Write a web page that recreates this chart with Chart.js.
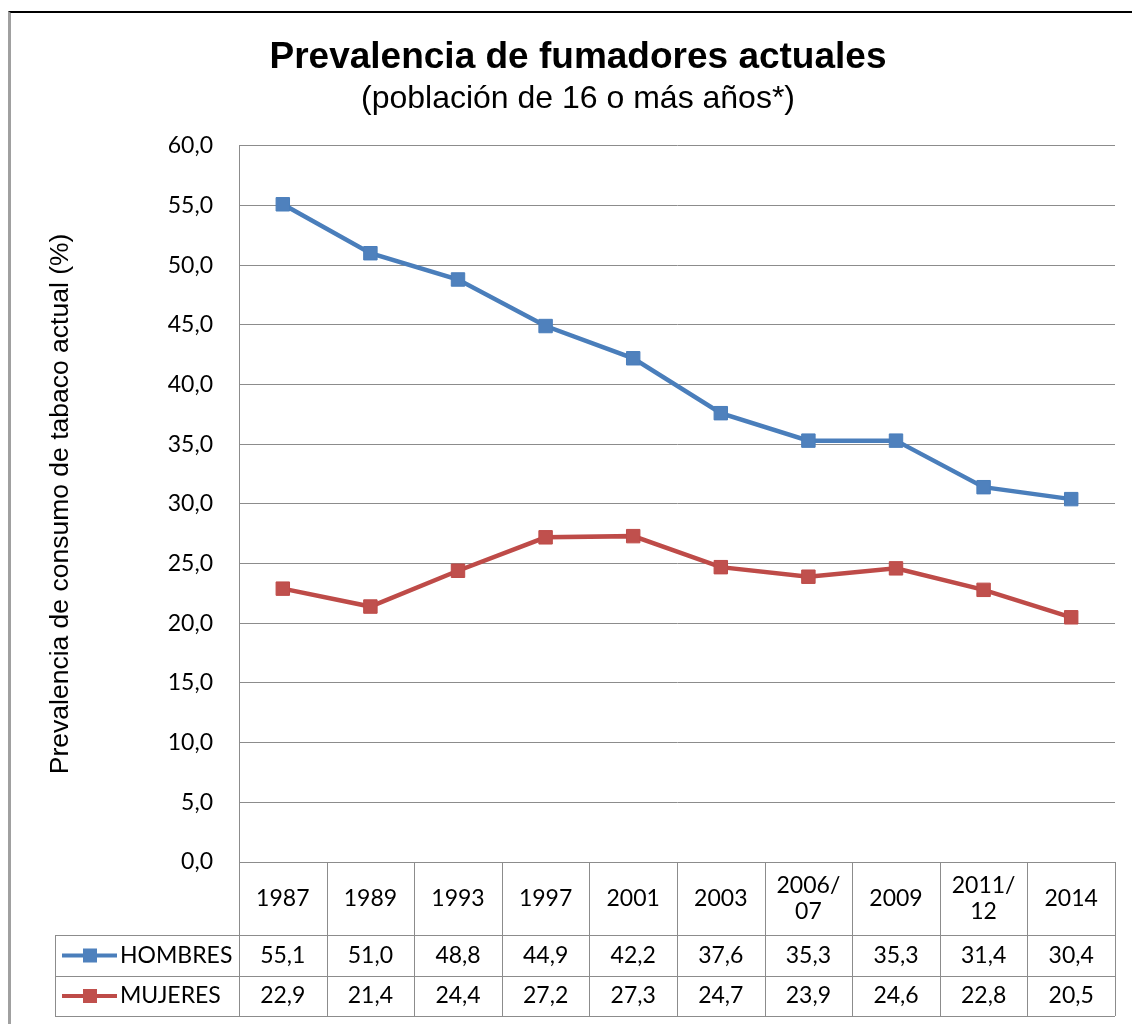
<!DOCTYPE html>
<html>
<head>
<meta charset="utf-8">
<script src="https://cdn.jsdelivr.net/npm/chart.js@4.4.1/dist/chart.umd.min.js"></script>
<style>
    body { margin: 0; background: #fff; }
    #wrap { position: relative; width: 1132px; height: 1024px; }
    #frame {
        position: absolute; left: 8px; top: 11px; right: 0; bottom: 0;
        border-top: 2px solid #000; border-left: 3px solid #a0a0a0;
    }
    #chart { position: absolute; left: 0; top: 0; }
</style>
</head>
<body>
<div id="wrap">
    <div id="frame"></div>
    <canvas id="chart" width="1132" height="1024"></canvas>
</div>
<script>
const years = ['1987', '1989', '1993', '1997', '2001', '2003', ['2006/', '07'], '2009', ['2011/', '12'], '2014'];
const hombres = [55.1, 51.0, 48.8, 44.9, 42.2, 37.6, 35.3, 35.3, 31.4, 30.4];
const mujeres = [22.9, 21.4, 24.4, 27.2, 27.3, 24.7, 23.9, 24.6, 22.8, 20.5];
const seriesNames = ['HOMBRES', 'MUJERES'];
const yMin = 0, yMax = 60, yStep = 5;

const cellFont = '23px Lato';
const gridColor = '#8c8c8c';

function fmt(v) {
    return v.toFixed(1).replace('.', ',');
}

// data table under the plot, aligned with the x scale
const dataTable = {
    id: 'dataTable',
    afterDraw(chart) {
        const ctx = chart.ctx;
        const x = chart.scales.x;
        const area = chart.chartArea;
        const half = (x.getPixelForValue(1) - x.getPixelForValue(0)) / 2;
        const top = area.bottom;
        const rowTops = [top, top + 73, top + 114, top + 154];
        const legendLeft = 55;

        ctx.save();
        ctx.strokeStyle = gridColor;
        ctx.lineWidth = 1;
        ctx.beginPath();
        // horizontal lines
        ctx.moveTo(area.left, rowTops[0] + 0.5);
        ctx.lineTo(area.right, rowTops[0] + 0.5);
        for (let r = 1; r < rowTops.length; r++) {
            ctx.moveTo(legendLeft, Math.round(rowTops[r]) + 0.5);
            ctx.lineTo(area.right, Math.round(rowTops[r]) + 0.5);
        }
        // vertical lines
        for (let i = 0; i <= years.length; i++) {
            const cx = Math.round(x.getPixelForValue(0) - half + i * half * 2) + 0.5;
            ctx.moveTo(cx, rowTops[0]);
            ctx.lineTo(cx, rowTops[3]);
        }
        ctx.moveTo(legendLeft + 0.5, rowTops[1]);
        ctx.lineTo(legendLeft + 0.5, rowTops[3]);
        ctx.stroke();

        ctx.fillStyle = '#000';
        ctx.font = cellFont;
        ctx.textAlign = 'center';
        ctx.textBaseline = 'middle';
        years.forEach((lab, i) => {
            const cx = x.getPixelForValue(i);
            const cy = (rowTops[0] + rowTops[1]) / 2;
            if (Array.isArray(lab)) {
                ctx.fillText(lab[0], cx, cy - 13);
                ctx.fillText(lab[1], cx, cy + 13);
            } else {
                ctx.fillText(lab, cx, cy);
            }
        });

        chart.data.datasets.forEach((ds, r) => {
            const cy = (rowTops[r + 1] + rowTops[r + 2]) / 2;
            ds.data.forEach((v, i) => {
                ctx.textAlign = 'center';
                ctx.fillText(fmt(v), x.getPixelForValue(i), cy);
            });
            // legend key
            ctx.strokeStyle = ds.borderColor;
            ctx.lineWidth = 4;
            ctx.beginPath();
            ctx.moveTo(62, cy);
            ctx.lineTo(117, cy);
            ctx.stroke();
            ctx.fillStyle = ds.pointBackgroundColor;
            ctx.fillRect(83, cy - 7, 14, 14);
            ctx.fillStyle = '#000';
            ctx.textAlign = 'left';
            ctx.fillText(ds.label, 120, cy);
        });
        ctx.restore();
    }
};

new Chart(document.getElementById('chart'), {
    type: 'line',
    data: {
        labels: years,
        datasets: [{
            label: seriesNames[0],
            data: hombres,
            borderColor: '#4A7EBB',
            backgroundColor: '#4F81BD',
            pointBackgroundColor: '#4F81BD',
            pointBorderColor: '#4A7EBB',
            borderWidth: 4.5,
            pointStyle: 'rect',
            pointRadius: 9.5,
            pointBorderWidth: 1,
            tension: 0
        }, {
            label: seriesNames[1],
            data: mujeres,
            borderColor: '#BE4B48',
            backgroundColor: '#C0504D',
            pointBackgroundColor: '#C0504D',
            pointBorderColor: '#BE4B48',
            borderWidth: 4.5,
            pointStyle: 'rect',
            pointRadius: 9.5,
            pointBorderWidth: 1,
            tension: 0
        }]
    },
    options: {
        responsive: false,
        animation: false,
        devicePixelRatio: 1,
        layout: {
            padding: { left: 41, right: 17, top: 0, bottom: 0 }
        },
        plugins: {
            legend: { display: false },
            tooltip: { enabled: false },
            title: {
                display: true,
                text: 'Prevalencia de fumadores actuales',
                color: '#000',
                font: { family: 'Liberation Sans', size: 37, weight: 'bold', lineHeight: 1.2 },
                padding: { top: 36, bottom: 0 }
            },
            subtitle: {
                display: true,
                text: '(población de 16 o más años*)',
                color: '#000',
                font: { family: 'Liberation Sans', size: 32, lineHeight: 1.2 },
                padding: { top: 0, bottom: 27 }
            }
        },
        scales: {
            x: {
                type: 'category',
                offset: true,
                grid: { display: false },
                border: { display: false },
                ticks: { display: false },
                afterFit(scale) { scale.height = 162; }
            },
            y: {
                min: yMin,
                max: yMax,
                ticks: {
                    stepSize: yStep,
                    color: '#000',
                    padding: 26,
                    font: { family: 'Lato', size: 23 },
                    callback: v => fmt(v)
                },
                grid: { color: gridColor, lineWidth: 1, drawTicks: false },
                border: { display: true, color: gridColor, width: 1 },
                title: {
                    display: true,
                    text: 'Prevalencia de consumo de tabaco actual (%)',
                    color: '#000',
                    font: { family: 'Liberation Sans', size: 26.5, lineHeight: 1.2 },
                    padding: { top: 4, bottom: 0 }
                },
                afterFit(scale) { scale.width = 198; }
            }
        }
    },
    plugins: [dataTable]
});
</script>
</body>
</html>
